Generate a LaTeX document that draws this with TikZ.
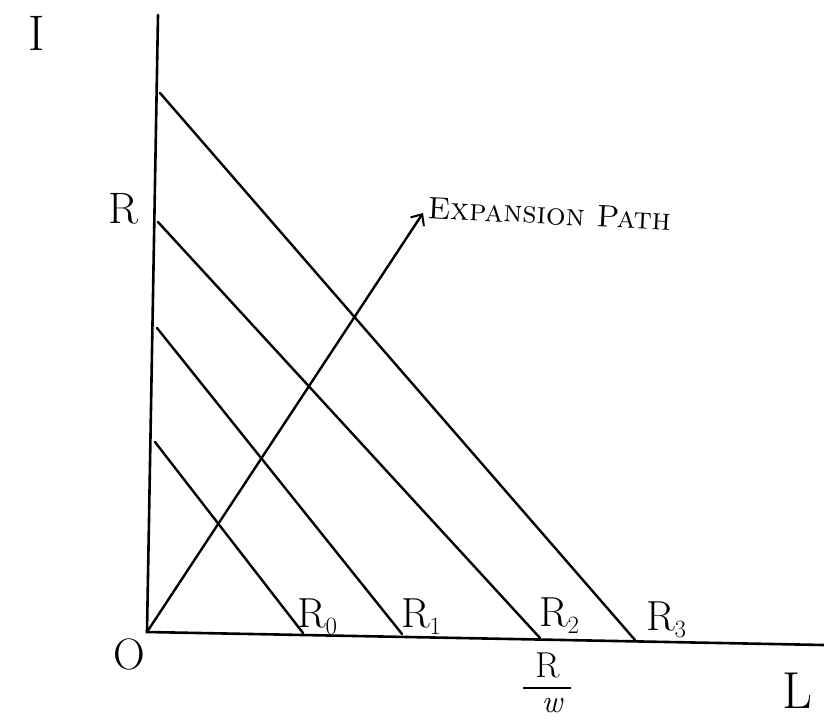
\documentclass[tikz,border=0pt]{standalone}
\usetikzlibrary{arrows.meta}
\begin{document}
\begin{tikzpicture}[x=1pt,y=-1pt,
  axisline/.style={line width=2.6pt, line cap=round},
  budget/.style={line width=2.4pt, line cap=round},
  lab/.style={inner sep=0pt, outer sep=0pt},
  big/.style={lab, font=\fontsize{44}{44}\selectfont},
  mid/.style={lab, font=\fontsize{42}{42}\selectfont}]
\useasboundingbox (0,0) rectangle (824,721);
% axes
\coordinate (Itop) at (158,15);
\coordinate (O) at (147,632);
\coordinate (Lend) at (824,645);
\draw[axisline] (Itop) -- (O) -- (Lend);
% budget lines
\coordinate (a0) at (155,442); \coordinate (b0) at (303,633);
\coordinate (a1) at (157,328); \coordinate (b1) at (402,634);
\coordinate (a2) at (158,222); \coordinate (b2) at (540,638);
\coordinate (a3) at (160,93);  \coordinate (b3) at (635,640);
\draw[budget] (a0) -- (b0);
\draw[budget] (a1) -- (b1);
\draw[budget] (a2) -- (b2);
\draw[budget] (a3) -- (b3);
% expansion path
\coordinate (E) at (423,213);
\draw[budget, -{Straight Barb[length=9pt,width=16pt,line width=2pt]}] (O) -- (E);
% labels
\node[lab, font=\fontsize{50}{50}\selectfont] (Ilab) at (37,33) {I};
\node[big] (Rlab) at (123,209) {R};
\node[big] (Olab) at (129,654) {O};
\node[lab, anchor=base west, rotate=-3, font=\fontsize{31}{31}\selectfont] (exp) at (427,218) {\textsc{Expansion Path}};
\node[mid, anchor=base west] (r0) at (297,627) {R$_0$};
\node[mid, anchor=base west] (r1) at (401,627) {R$_1$};
\node[mid, anchor=base west] (r2) at (539,626) {R$_2$};
\node[mid, anchor=base west] (r3) at (646,630) {R$_3$};
% R over w
\node[lab, anchor=base, font=\fontsize{36}{36}\selectfont] (fracR) at (548,677) {R};
\node[lab] (fracbar) at (547,688) {\rule{48pt}{2.2pt}};
\node[lab, anchor=base, font=\fontsize{32}{32}\selectfont\itshape] (fracw) at (552,712) {w};
\node[lab, anchor=base east, font=\fontsize{52}{52}\selectfont] (Llab) at (812,708) {L};
\end{tikzpicture}
\end{document}
